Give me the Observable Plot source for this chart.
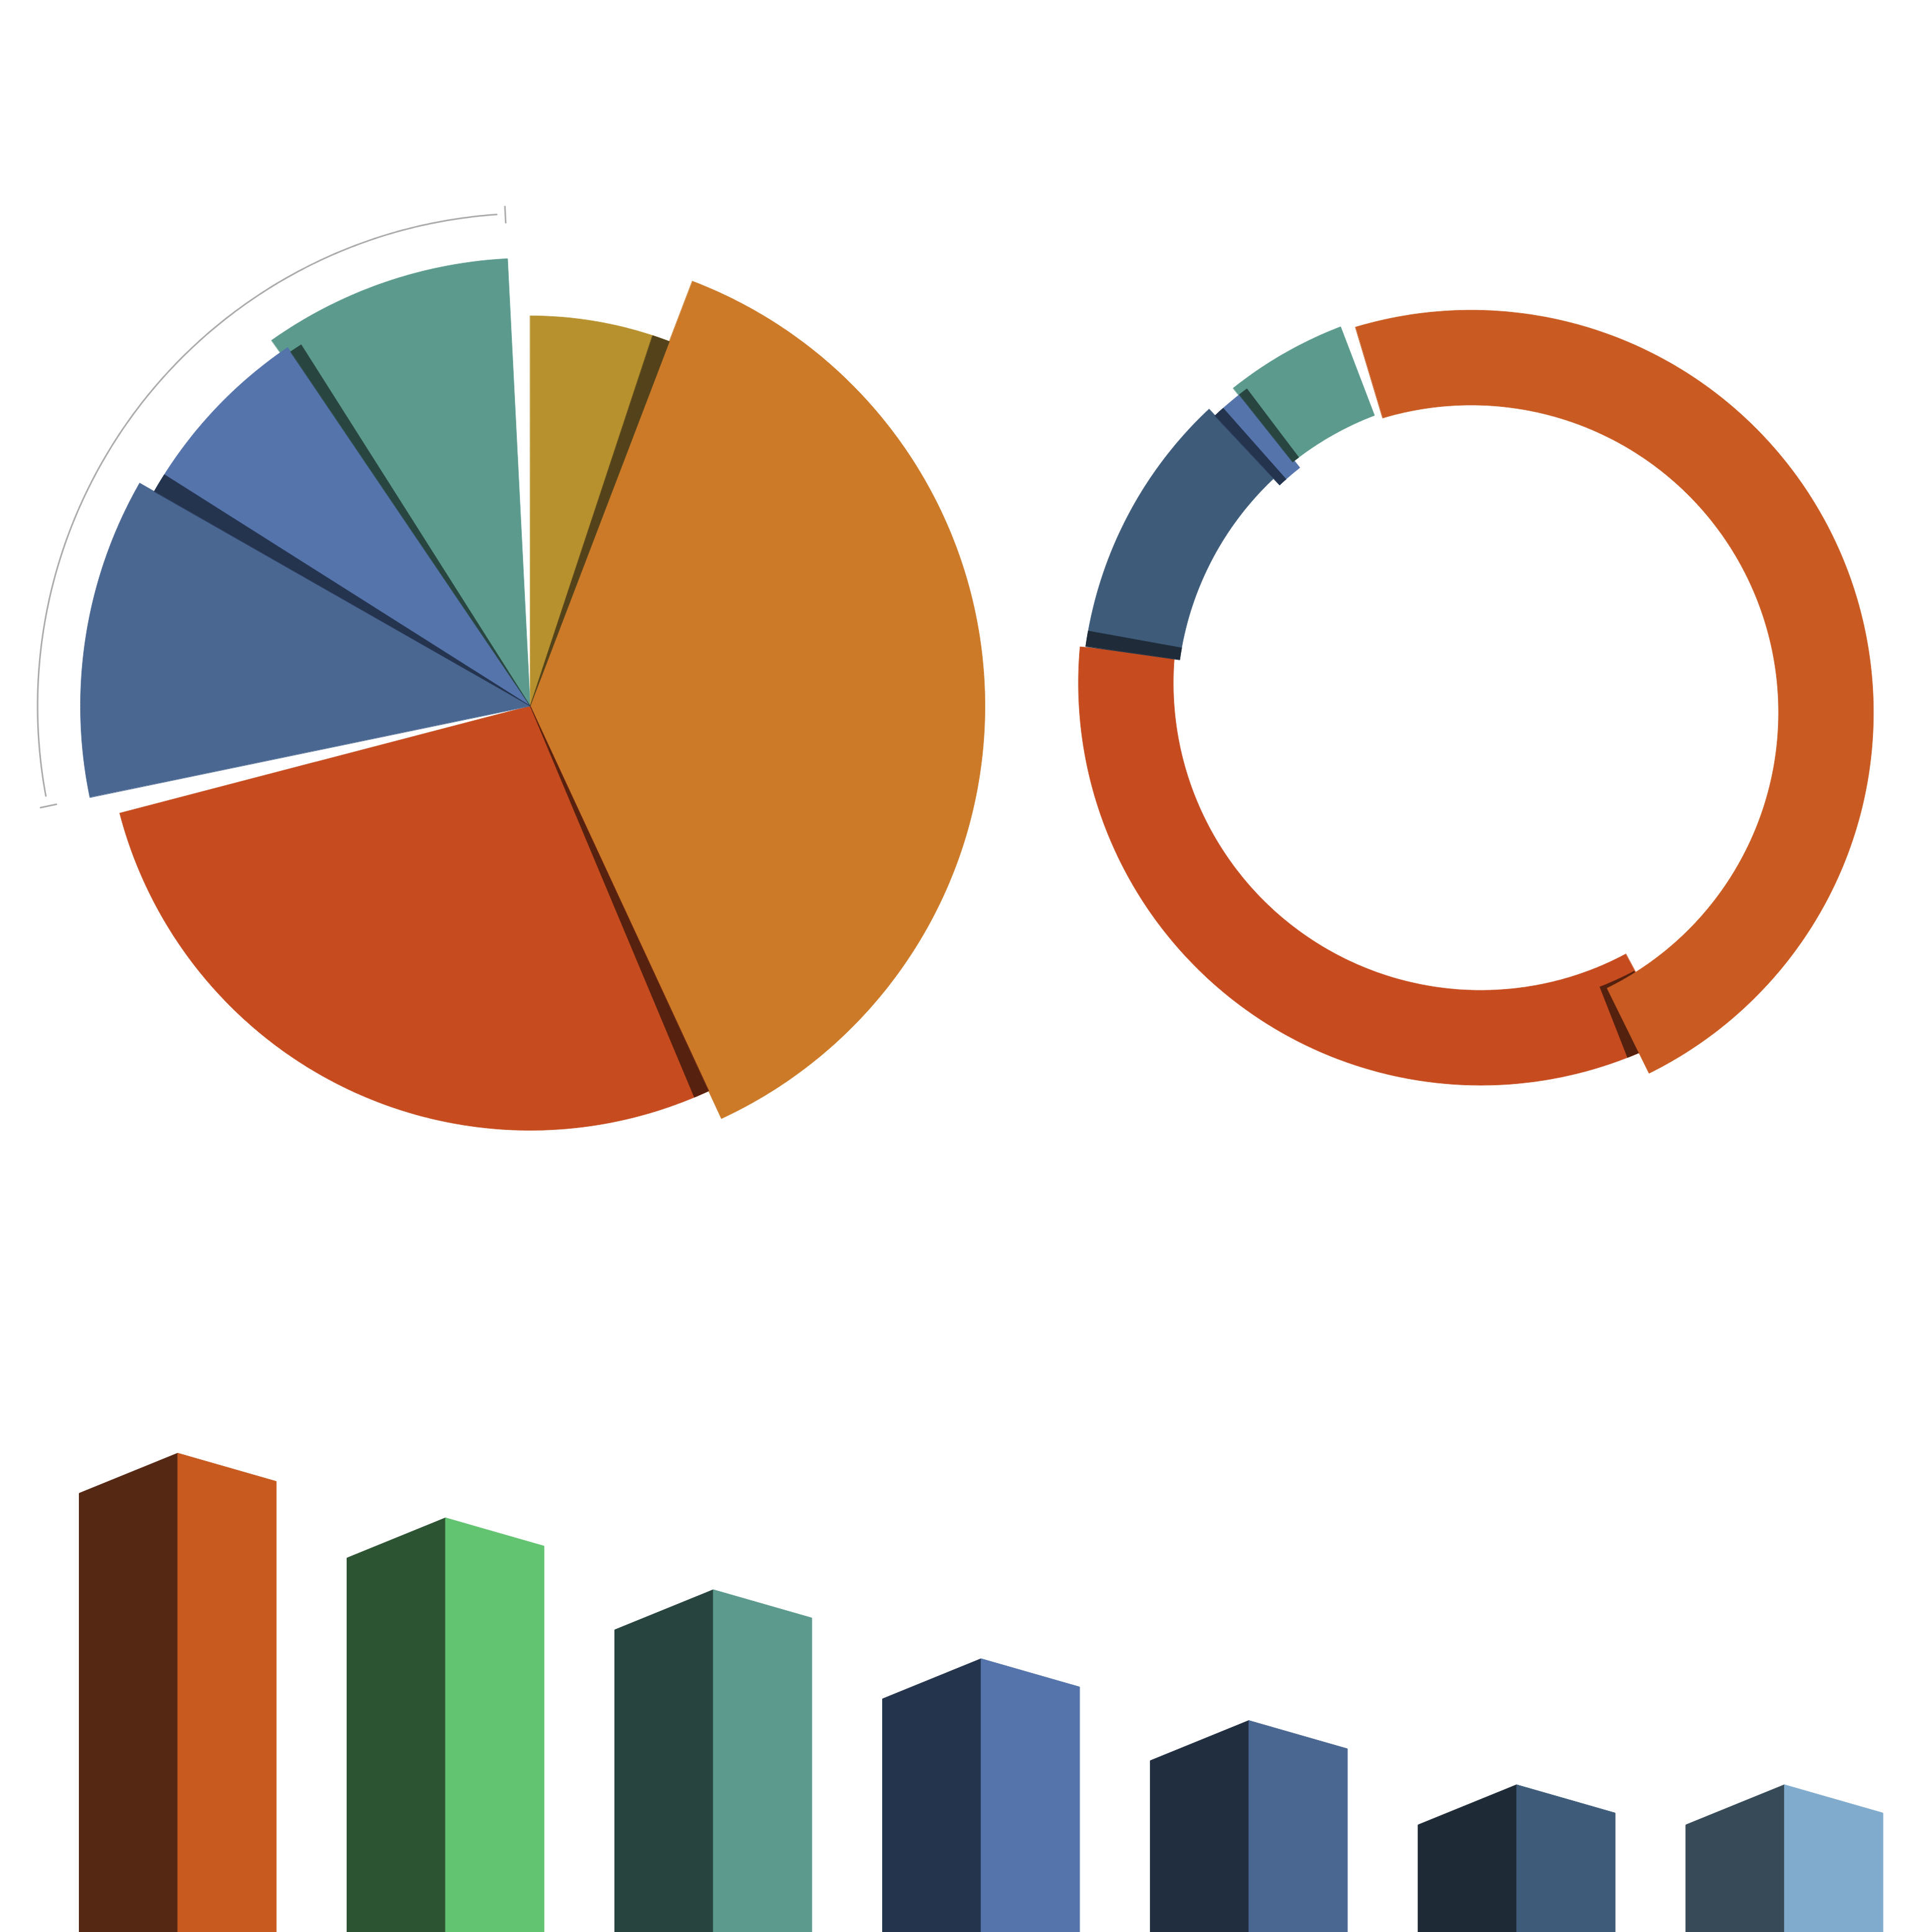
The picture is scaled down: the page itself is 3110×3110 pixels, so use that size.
<!DOCTYPE html>
<html>
<head>
<meta charset="utf-8">
<script src="https://cdn.jsdelivr.net/npm/d3@7"></script>
<script src="https://cdn.jsdelivr.net/npm/@observablehq/plot@0.6"></script>
<style>
  html, body { margin: 0; padding: 0; background: #ffffff; }
  #chart { width: 3110px; height: 3110px; position: relative; overflow: hidden; background: #fff; }
  #chart svg { display: block; }
</style>
</head>
<body>
<div id="chart"></div>
<script>
// ---------------- DATA ----------------
// Left pie (variable radius): category shares and radius magnitudes
const pieCategories = ["Gold", "Orange", "Red", "Slate", "Blue", "Teal"];
const pieShares     = [5.9, 37.9, 28.3, 11.7, 7.4, 8.8];
const pieMagnitudes = [85.8, 100, 93.3, 98.9, 95.2, 98.5];

// Right donut: category shares
const donutCategories = ["Orange", "Red", "Slate", "Blue", "Teal"];
const donutShares     = [48.3, 34.4, 11.0, 1.4, 4.9];

// Bottom 3D columns
const barCategories = ["A", "B", "C", "D", "E", "F", "G"];
const barValues     = [100, 86.5, 71.5, 57.1, 44.2, 30.8, 30.8];

// ---------------- STYLES / LAYOUT ----------------
const pieColors = {
  Gold:   ["#B8912F", "#54431A"],
  Orange: ["#CC7A27", "#5A3512"],
  Red:    ["#C64C1F", "#56220F"],
  Slate:  ["#4A6792", "#212E40"],
  Blue:   ["#5574AB", "#25344E"],
  Teal:   ["#5B9A8D", "#28453F"]
};
const pieStyle = {
  Gold:  {shade: {side: "end", w: 2.6}},
  Red:   {shade: {side: "start", w: 2.1}, gapAfter: 2.9},
  Blue:  {shade: {side: "start", w: 2.6}},
  Teal:  {first: true, lead: 1.2, shade: {side: "start", w: 1.7, rk: 0.955}, gapAfter: 2.9}
};
const PIE = {cx: 853, cy: 1136, rMax: 732, start: 0};
const BRACKET = {group: ["Slate", "Blue", "Teal"], r: 793, tick0: 778, tick1: 806, inset0: 1.2, inset1: 1.0, color: "#ABABAB"};

const donutColors = {
  Orange: ["#C95A21", "#552814"],
  Red:    ["#C64C1F", "#55210F"],
  Slate:  ["#3E5C7A", "#1F2B38"],
  Blue:   ["#5574AB", "#25344E"],
  Teal:   ["#5B9A8D", "#28453F"]
};
const donutStyle = {
  Orange: {dx: -21, dy: 15.9, last: true},
  Red:    {dx: -5.5, dy: -31.7, lead: 1.9, gapAfter: 2.9, shade: {at: -1.75, w: 6.6, rki: 1.062}},
  Slate:  {shade: {at: 0, w: 2.2}},
  Blue:   {dx: 9.3, dy: 10.8, shade: {at: 0, w: 1.6}},
  Teal:   {first: true, lead: 0.4, shade: {at: -0.3, w: 1.4, rko: 0.978}, gapAfter: 4.2}
};
const DONUT = {cx: 2388.6, cy: 1130.5, rOuter: 647.6, rInner: 494.9, start: 343.3};

const barColors = [
  ["#552814", "#C85A20"],
  ["#2C5433", "#62C371"],
  ["#28443F", "#5B9A8D"],
  ["#25344D", "#5574AB"],
  ["#212E40", "#4A6791"],
  ["#1E2A36", "#3E5C79"],
  ["#364A57", "#80ABCD"]
];

// ---------------- GEOMETRY HELPERS ----------------
const rad = a => a * Math.PI / 180;
function pt(cx, cy, r, a) { return {x: cx + r * Math.sin(rad(a)), y: cy - r * Math.cos(rad(a))}; }
function wedge(cx, cy, r0, r1, a0, a1) {
  const n = Math.max(2, Math.ceil(Math.abs(a1 - a0) / 0.4));
  const pts = [];
  for (let i = 0; i <= n; i++) pts.push(pt(cx, cy, r1, a0 + (a1 - a0) * i / n));
  if (r0 <= 0) pts.push({x: cx, y: cy});
  else for (let i = n; i >= 0; i--) pts.push(pt(cx, cy, r0, a0 + (a1 - a0) * i / n));
  return pts;
}
function angles(cats, shares, styles, start) {
  const gaps = d3.sum(cats, c => (styles[c] && styles[c].gapAfter) || 0);
  const k = (360 - gaps) / d3.sum(shares);
  let a = start;
  return cats.map((c, i) => {
    const a0 = a, a1 = a + shares[i] * k;
    a = a1 + ((styles[c] && styles[c].gapAfter) || 0);
    return {cat: c, a0, a1, i};
  });
}
const polyMark = (pts, fill, sw = 0.8) =>
  Plot.line(pts, {x: "x", y: "y", fill, stroke: fill, strokeWidth: sw, curve: "linear-closed"});

// ---------------- LEFT PIE ----------------
const pieAng = angles(pieCategories, pieShares, pieStyle, PIE.start);
const rScale = m => m / d3.max(pieMagnitudes) * PIE.rMax;
const pieFirst = [], pieMain = [], pieStrips = [];
for (const s of pieAng) {
  const st = pieStyle[s.cat] || {};
  const r = rScale(pieMagnitudes[s.i]);
  const [c, dark] = pieColors[s.cat];
  const m0 = s.a0 - (st.lead || 0);
  const poly = polyMark(wedge(PIE.cx, PIE.cy, 0, r, m0, s.a1), c);
  (st.first ? pieFirst : pieMain).push(poly);
  if (st.shade) {
    const w = st.shade.w, rk = st.shade.rk || 1;
    const [b0, b1] = st.shade.side === "end" ? [s.a1 - w, s.a1] : [s.a0, s.a0 + w];
    pieStrips.push(polyMark(wedge(PIE.cx, PIE.cy, 0, r * rk, b0, b1), dark));
  }
}
// bracket around the cool group
const grp = pieAng.filter(s => BRACKET.group.includes(s.cat));
const gA0 = d3.min(grp, s => s.a0), gA1 = d3.max(grp, s => s.a1);
const arcPts = d3.range(0, 201).map(i => pt(PIE.cx, PIE.cy, BRACKET.r, gA0 + BRACKET.inset0 + (gA1 - BRACKET.inset1 - gA0 - BRACKET.inset0) * i / 200));
const ticks = [gA0, gA1].map(a => ({p0: pt(PIE.cx, PIE.cy, BRACKET.tick0, a), p1: pt(PIE.cx, PIE.cy, BRACKET.tick1, a)}));

// ---------------- DONUT ----------------
const donAng = angles(donutCategories, donutShares, donutStyle, DONUT.start);
const donFirst = [], donMain = [], donStrips = [], donLast = [];
for (const s of donAng) {
  const st = donutStyle[s.cat] || {};
  const cx = DONUT.cx + (st.dx || 0), cy = DONUT.cy + (st.dy || 0);
  const [c, dark] = donutColors[s.cat];
  const poly = polyMark(wedge(cx, cy, DONUT.rInner, DONUT.rOuter, s.a0 - (st.lead || 0), s.a1), c);
  (st.first ? donFirst : st.last ? donLast : donMain).push(poly);
  if (st.shade) {
    const b0 = s.a0 + st.shade.at, b1 = b0 + st.shade.w;
    donStrips.push(polyMark(wedge(cx, cy, DONUT.rInner * (st.shade.rki || 1), DONUT.rOuter * (st.shade.rko || 1), b0, b1), dark));
  }
}

const pieHeight = 2200;
const piePlot = Plot.plot({
  width: 3110, height: pieHeight, margin: 0,
  x: {domain: [0, 3110], range: [0, 3110], axis: null},
  y: {domain: [0, pieHeight], range: [0, pieHeight], axis: null},
  marks: [
    ...pieFirst, ...pieMain, ...pieStrips,
    Plot.line(arcPts, {x: "x", y: "y", stroke: BRACKET.color, strokeWidth: 2.5}),
    Plot.link(ticks, {x1: d => d.p0.x, y1: d => d.p0.y, x2: d => d.p1.x, y2: d => d.p1.y, stroke: BRACKET.color, strokeWidth: 2.5}),
    ...donFirst, ...donMain, ...donStrips, ...donLast
  ]
});

// ---------------- 3D COLUMNS ----------------
const barHeight = 910;
const barTopPx = 138.7;           // pixel position of the max value
const xPitch = 431.05, xFirst = 285.6, halfW = 0.368;
const dropLeftPx = 64.6, dropRightPx = 45.5;
const yMax = d3.max(barValues);
const unitPerPx = yMax / (barHeight - barTopPx);
const faces = [];
barValues.forEach((v, i) => {
  const dl = dropLeftPx * unitPerPx, dr = dropRightPx * unitPerPx;
  faces.push({pts: [{x: i - halfW, y: 0}, {x: i - halfW, y: v - dl}, {x: i, y: v}, {x: i, y: 0}], fill: barColors[i][0]});
  faces.push({pts: [{x: i, y: 0}, {x: i, y: v}, {x: i + halfW, y: v - dr}, {x: i + halfW, y: 0}], fill: barColors[i][1]});
});
const barPlot = Plot.plot({
  width: 3110, height: barHeight, margin: 0,
  x: {domain: [-xFirst / xPitch, (3110 - xFirst) / xPitch], range: [0, 3110], axis: null},
  y: {domain: [0, yMax], range: [barHeight, barTopPx], axis: null},
  marks: faces.map(f => polyMark(f.pts, f.fill, 1))
});

const root = document.getElementById("chart");
root.appendChild(piePlot);
root.appendChild(barPlot);
</script>
</body>
</html>
